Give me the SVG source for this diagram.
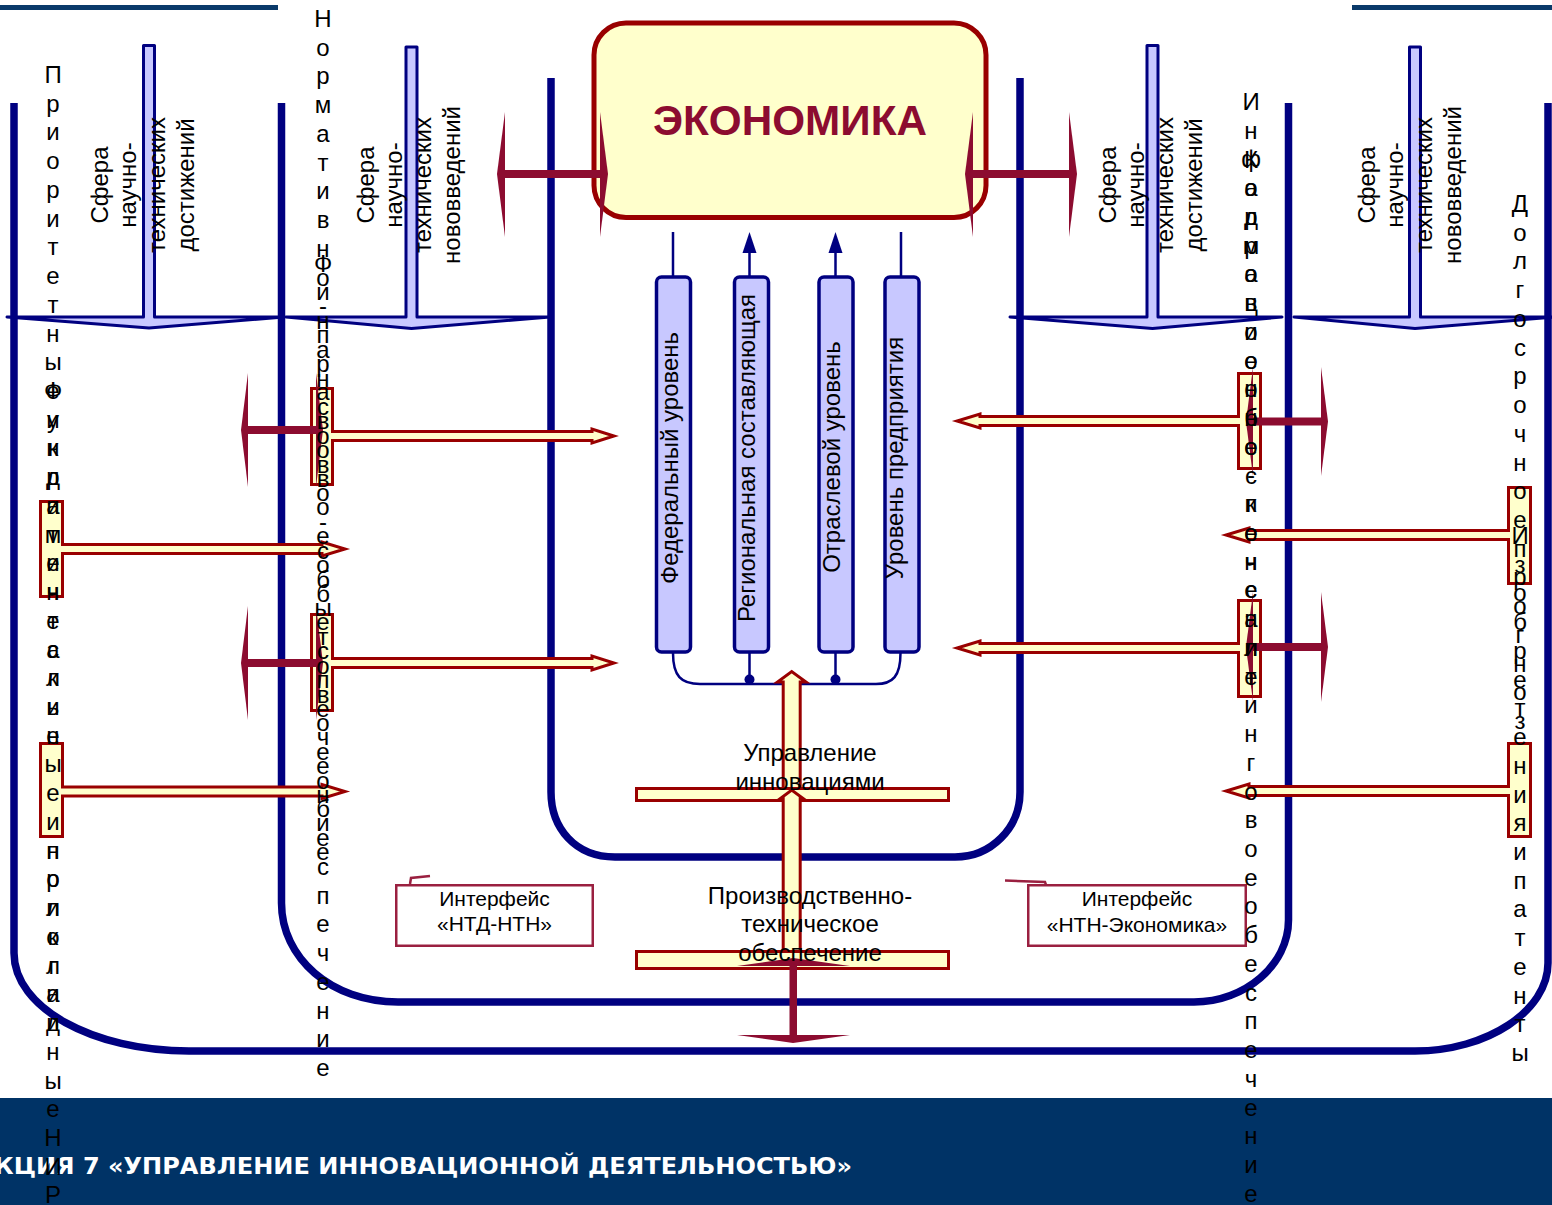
<svg xmlns="http://www.w3.org/2000/svg" width="1552" height="1205" viewBox="0 0 1552 1205">
<style>
.navy{fill:none;stroke:#000080;stroke-width:7.5}
.ln{fill:none;stroke:#000080;stroke-width:2.5}
.col{fill:#c8c8ff;stroke:#000080;stroke-width:3.5}
.ba{fill:#c8c8ff;stroke:#000080;stroke-width:3;stroke-linejoin:round}
.yel{fill:#ffffcc;stroke:#990000;stroke-width:3}
.red{fill:#8c0c30}
.t{font-family:"Liberation Sans",Arial,sans-serif;font-size:24px;fill:#000;text-anchor:middle}
.s{font-family:"Liberation Sans",Arial,sans-serif;font-size:21px;fill:#000;text-anchor:middle}
.ifc{fill:#fff;stroke:#9a2040;stroke-width:2.5}
.tick{fill:none;stroke:#9a2040;stroke-width:2.5}
</style>
<rect width="1552" height="1205" fill="#fff"/>
<rect x="0" y="5" width="278" height="5" fill="#0a3a6a"/>
<rect x="1352" y="5" width="200" height="5" fill="#0a3a6a"/>
<rect x="0" y="1098" width="1552" height="107" fill="#003366"/>
<text x="-6" y="1174" textLength="858" lengthAdjust="spacingAndGlyphs" font-family="DejaVu Sans, sans-serif" font-weight="bold" font-size="23" fill="#fff">КЦИЯ 7 «УПРАВЛЕНИЕ ИННОВАЦИОННОЙ ДЕЯТЕЛЬНОСТЬЮ»</text>

<g id="frames">
<path class="navy" d="M14,103 V953 C14,1008 93,1051 189,1051 H1415 C1487,1051 1548,1011 1548,963 V103"/>
<path class="navy" d="M281.5,103 V903 C281.5,958 331,1002 398,1002 H1194 C1245,1002 1288.5,965 1288.5,920 V103"/>
<path class="navy" d="M551,78 V792 C551,828 575,857 615,857 H955 C991,857 1020,828 1020,792 V78"/>
</g>

<g id="economy">
<rect x="594" y="23" width="392" height="194.5" rx="32" fill="#ffffcc" stroke="#990000" stroke-width="5"/>
<text x="790" y="135" font-family="Liberation Sans, Arial, sans-serif" font-weight="bold" font-size="42" fill="#8c0c30" text-anchor="middle" textLength="274" lengthAdjust="spacingAndGlyphs">ЭКОНОМИКА</text>
</g>

<g id="level-federal"><rect class="col" x="656.5" y="277" width="34" height="375" rx="5"/><text class="t" transform="translate(678,458) rotate(-90)">Федеральный уровень</text></g>
<g id="level-regional"><rect class="col" x="734.5" y="277" width="34" height="375" rx="5"/><text class="t" transform="translate(755,458) rotate(-90)">Региональная составляющая</text></g>
<g id="level-branch"><rect class="col" x="819" y="277" width="34" height="375" rx="5"/><text class="t" transform="translate(840,457) rotate(-90)">Отраслевой уровень</text></g>
<g id="level-enterprise"><rect class="col" x="885" y="277" width="34" height="375" rx="5"/><text class="t" transform="translate(902.5,458) rotate(-90)">Уровень предприятия</text></g>

<g id="connectors">
<path class="ba" d="M143.5,45.5 H154.5 V317 H284 L149,328 L7,317 H143.5 Z"/>
<path class="ba" d="M406,47 H417 V317 H550 L411.5,328.5 L286,317 H406 Z"/>
<path class="ba" d="M1147,45.5 H1158 V317 H1282 L1152.5,328.5 L1010,317 H1147 Z"/>
<path class="ba" d="M1409.5,47 H1420.5 V317 H1556 L1415,328.5 L1294,317 H1409.5 Z"/>
<path class="ln" d="M673,276 V232 M901,276 V232 M749.5,276 V250 M835.5,276 V250"/>
<polygon fill="#000080" points="742.5,253 756.5,253 749.5,232"/>
<polygon fill="#000080" points="828.5,253 842.5,253 835.5,232"/>
<path class="ln" d="M673,653 C673,676 681,684 700,684 H876 C893,684 900.5,676 900.5,653"/>
<path class="ln" d="M749.5,653 V679 M835.5,653 V679"/>
<circle cx="749.5" cy="679.5" r="5" fill="#000080"/>
<circle cx="835.5" cy="679.5" r="5" fill="#000080"/>
<path class="yel" d="M311.5,388.5 H332.5 V431.5 H592 V429 L614,436 L592,443 V440.5 H332.5 V484.5 H311.5 Z"/>
<path class="yel" d="M311.5,614.5 H332.5 V658.5 H592 V656 L614,663 L592,670 V667.5 H332.5 V710.5 H311.5 Z"/>
<path class="yel" d="M40.5,501.5 H62.5 V544.5 H322 V542 L345,549 L322,556 V553.5 H62.5 V596.5 H40.5 Z"/>
<path class="yel" d="M40.5,743.5 H62.5 V787 H322 V784.5 L345,791.5 L322,798.5 V796 H62.5 V836.5 H40.5 Z"/>
<path class="yel" d="M1260.5,373.5 V468.5 H1238.5 V425.5 H980 V428 L957,421 L980,414 V416.5 H1238.5 V373.5 Z"/>
<path class="yel" d="M1260.5,600.5 V696.5 H1238.5 V652.5 H980 V655 L957,648 L980,641 V643.5 H1238.5 V600.5 Z"/>
<path class="yel" d="M1530.5,487.5 V583.5 H1508.5 V539.5 H1249 V542 L1226,535 L1249,528 V530.5 H1508.5 V487.5 Z"/>
<path class="yel" d="M1530.5,743.5 V836.5 H1508.5 V795.5 H1249 V798 L1226,791 L1249,784 V786.5 H1508.5 V743.5 Z"/>
<g class="red">
<rect x="504" y="170" width="97" height="8"/>
<polygon points="505,112 497,174 505,237"/>
<polygon points="600,112 608,174 600,237"/>
<rect x="972" y="170" width="98" height="8"/>
<polygon points="973,112 965,174 973,237"/>
<polygon points="1069,112 1077,174 1069,237"/>
<rect x="247" y="426" width="71" height="8"/>
<polygon points="248,373 241,430 248,487"/>
<polygon points="316,373 323,430 316,487"/>
<rect x="247" y="659" width="71" height="8"/>
<polygon points="248,606 241,663 248,720"/>
<polygon points="316,606 323,663 316,720"/>
<rect x="1252" y="417.5" width="70" height="8"/>
<polygon points="1253,367 1246,421.5 1253,476"/>
<polygon points="1321,367 1328,421.5 1321,476"/>
<rect x="1252" y="643" width="70" height="8"/>
<polygon points="1253,592 1246,647 1253,702"/>
<polygon points="1321,592 1328,647 1321,702"/>
</g>
<path class="yel" d="M783.2,797 V682 H777.5 L791.7,671.5 L806,682 H800.2 V797 Z"/>
<rect class="yel" x="636.5" y="788.5" width="312" height="12"/>
<path class="yel" d="M783.2,955 V798 H781 L791.7,790 L802.5,798 H800.2 V955 Z"/>
<rect class="yel" x="636.5" y="951.5" width="312" height="17"/>
<g class="red">
<rect x="789.5" y="963" width="7.5" height="74"/>
<polygon points="737,966 793,958 850,966"/>
<polygon points="737,1035 793,1043 850,1035"/>
</g>
</g>

<g id="sphere-achievements-1" class="t">
<text transform="translate(107.5,185) rotate(-90)">Сфера</text>
<text transform="translate(136.2,185) rotate(-90)">научно-</text>
<text transform="translate(164.9,185) rotate(-90)">технических</text>
<text transform="translate(193.6,185) rotate(-90)">достижений</text>
</g>
<g id="sphere-innovations-1" class="t">
<text transform="translate(373.5,185) rotate(-90)">Сфера</text>
<text transform="translate(402.2,185) rotate(-90)">научно-</text>
<text transform="translate(430.9,185) rotate(-90)">технических</text>
<text transform="translate(459.6,185) rotate(-90)">нововведений</text>
</g>
<g id="sphere-achievements-2" class="t">
<text transform="translate(1115.5,185) rotate(-90)">Сфера</text>
<text transform="translate(1144.2,185) rotate(-90)">научно-</text>
<text transform="translate(1172.9,185) rotate(-90)">технических</text>
<text transform="translate(1201.6,185) rotate(-90)">достижений</text>
</g>
<g id="sphere-innovations-2" class="t">
<text transform="translate(1374.5,185) rotate(-90)">Сфера</text>
<text transform="translate(1403.2,185) rotate(-90)">научно-</text>
<text transform="translate(1431.9,185) rotate(-90)">технических</text>
<text transform="translate(1460.6,185) rotate(-90)">нововведений</text>
</g>

<g id="iface-ntd-ntn">
<rect class="ifc" x="396.25" y="885.25" width="196.5" height="60.5"/>
<polyline class="tick" points="410,884 411,878 430,876"/>
<text class="s" x="494.5" y="906">Интерфейс</text>
<text class="s" x="494.5" y="931">«НТД-НТН»</text>
</g>
<g id="iface-ntn-economy">
<rect class="ifc" x="1028.25" y="885.25" width="217.5" height="60.5"/>
<polyline class="tick" points="1005,880.5 1045,882 1046,885"/>
<text class="s" x="1137" y="906">Интерфейс</text>
<text class="s" x="1137" y="932">«НТН-Экономика»</text>
</g>

<g id="innovation-management" class="t">
<text x="810" y="761">Управление</text>
<text x="810" y="790">инновациями</text>
</g>
<g id="production-support" class="t">
<text x="810" y="904">Производственно-</text>
<text x="810" y="932">техническое</text>
<text x="810" y="961">обеспечение</text>
</g>

<g id="vtext-left" class="t">
<text x="53 53 53 53 53 53 53 53 53 53 53 53 53 53 53 53 53 53 53 53 53 53 53 53 53 53 53 53 53 53 53 53 53 53 53 53 53 53 53 53" y="83" dy="0 28.73 28.73 28.73 28.73 28.73 28.73 28.73 28.73 28.73 28.73 28.73 28.73 28.73 28.73 28.73 28.73 28.73 28.73 28.73 28.73 28.73 28.73 28.73 28.73 28.73 28.73 28.73 28.73 28.73 28.73 28.73 28.73 28.73 28.73 28.73 28.73 28.73 28.73 28.73">Приоритетныеикритические</text>
<text x="53 53 53 53 53 53 53 53 53 53 53 53 53 53 53 53 53 53 53 53" y="858.7" dy="0 28.73 28.73 28.73 28.73 28.73 28.73 28.73 28.73 28.73 28.73 28.73 28.73 28.73 28.73 28.73 28.73 28.73 28.73 28.73">нологии</text>
<text x="53 53 53 53 53 53 53 53 53 53 53 53 53 53 53 53 53 53 53 53 53 53 53 53 53 53 53 53 53 53 53 53 53 53 53 53 53 53 53 53" y="399" dy="0 28.73 28.73 28.73 28.73 28.73 28.73 28.73 28.73 28.73 28.73 28.73 28.73 28.73 28.73 28.73 28.73 28.73 28.73 28.73 28.73 28.73 28.73 28.73 28.73 28.73 28.73 28.73 28.73 28.73 28.73 28.73 28.73 28.73 28.73 28.73 28.73 28.73 28.73 28.73">ФундаментальныеиприкладныеНИР</text>
</g>
<g id="vtext-legal" class="t">
<text x="323 323 323 323 323 323 323 323 323 323 323 323 323 323 323 323 323 323 323 323 323 323 323 323 323 323 323 323 323 323 323 323 323 323 323 323 323 323 323 323" y="27" dy="0 28.73 28.73 28.73 28.73 28.73 28.73 28.73 28.73 28.73 28.73 28.73 28.73 28.73 28.73 28.73 28.73 28.73 28.73 28.73 28.73 28.73 28.73 28.73 28.73 28.73 28.73 28.73 28.73 28.73 28.73 28.73 28.73 28.73 28.73 28.73 28.73 28.73 28.73 28.73">Нормативно-правовоеобеспечение</text>
<text x="323 323 323 323 323 323 323 323 323 323 323 323 323 323 323 323 323 323 323 323 323 323 323 323 323 323 323 323 323 323 323 323 323 323 323 323 323 323 323 323" y="271.6" dy="0 28.73 28.73 28.73 28.73 28.73 28.73 28.73 28.73 28.73 28.73 28.73 28.73 28.73 28.73 28.73 28.73 28.73 28.73 28.73 28.73 28.73 28.73 28.73 28.73 28.73 28.73 28.73 28.73 28.73 28.73 28.73 28.73 28.73 28.73 28.73 28.73 28.73 28.73 28.73">Финансово-сбытовоеобеспечение</text>
</g>
<g id="vtext-info" class="t">
<text x="1251 1251 1251 1251 1251 1251 1251 1251 1251 1251 1251 1251 1251 1251 1251 1251 1251 1251 1251 1251 1251 1251 1251 1251 1251 1251 1251 1251 1251 1251 1251 1251 1251 1251 1251 1251 1251 1251 1251 1251" y="110" dy="0 28.73 28.73 28.73 28.73 28.73 28.73 28.73 28.73 28.73 28.73 28.73 28.73 28.73 28.73 28.73 28.73 28.73 28.73 28.73 28.73 28.73 28.73 28.73 28.73 28.73 28.73 28.73 28.73 28.73 28.73 28.73 28.73 28.73 28.73 28.73 28.73 28.73 28.73 28.73">Информационно-консалтинговоеобеспечение</text>
<text x="1251 1251 1251 1251 1251 1251 1251 1251 1251 1251 1251 1251 1251 1251 1251 1251 1251 1251 1251 1251 1251 1251 1251 1251 1251 1251 1251 1251 1251 1251 1251 1251 1251 1251 1251 1251 1251 1251 1251 1251" y="167.5" dy="0 28.73 28.73 28.73 28.73 28.73 28.73 28.73 28.73 28.73 28.73 28.73 28.73 28.73 28.73 28.73 28.73 28.73 28.73 28.73 28.73 28.73 28.73 28.73 28.73 28.73 28.73 28.73 28.73 28.73 28.73 28.73 28.73 28.73 28.73 28.73 28.73 28.73 28.73 28.73">Кадровоеобеспечение</text>
</g>
<g id="vtext-forecast" class="t">
<text x="1520 1520 1520 1520 1520 1520 1520 1520 1520 1520 1520 1520 1520 1520 1520 1520 1520 1520 1520 1520 1520 1520 1520 1520 1520 1520 1520 1520 1520 1520 1520 1520 1520 1520 1520 1520 1520 1520 1520 1520" y="212" dy="0 28.73 28.73 28.73 28.73 28.73 28.73 28.73 28.73 28.73 28.73 28.73 28.73 28.73 28.73 28.73 28.73 28.73 28.73 28.73 28.73 28.73 28.73 28.73 28.73 28.73 28.73 28.73 28.73 28.73 28.73 28.73 28.73 28.73 28.73 28.73 28.73 28.73 28.73 28.73">Долгосрочноепрогноз</text>
<text x="1520 1520 1520 1520 1520 1520 1520 1520 1520 1520 1520 1520 1520 1520 1520 1520 1520 1520 1520 1520 1520 1520 1520 1520 1520 1520 1520 1520 1520 1520 1520 1520 1520 1520 1520 1520 1520 1520 1520 1520" y="544" dy="0 28.73 28.73 28.73 28.73 28.73 28.73 28.73 28.73 28.73 28.73 28.73 28.73 28.73 28.73 28.73 28.73 28.73 28.73 28.73 28.73 28.73 28.73 28.73 28.73 28.73 28.73 28.73 28.73 28.73 28.73 28.73 28.73 28.73 28.73 28.73 28.73 28.73 28.73 28.73">Изобретенияипатенты</text>
</g>
</svg>
